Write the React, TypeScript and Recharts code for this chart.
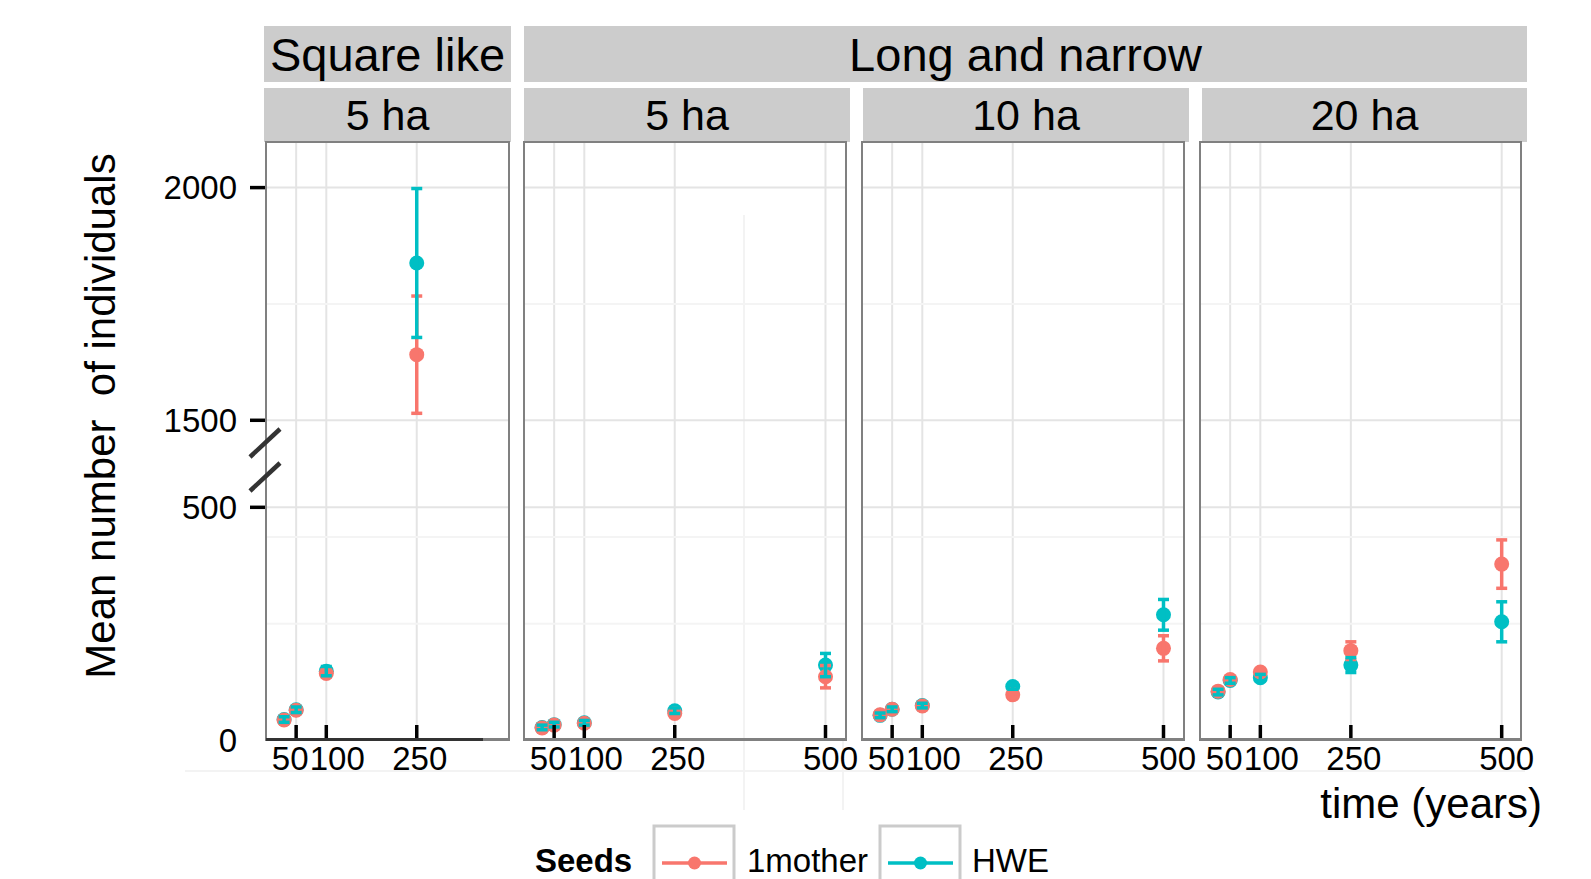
import React from 'react';
import { ScatterChart, Scatter, XAxis, YAxis, CartesianGrid, ReferenceLine } from 'recharts';

const MOTHER = '#F8766D';
const HWE = '#00BFC4';
const FONT = '"Liberation Sans", Arial, Helvetica, sans-serif';

// broken y axis: 0-500 and 1500-2000 share one scale, the gap is cut out
const Y_TICK_LABELS = [0, 500, 1500, 2000];
const Y_MINOR = [250, 436, 1750];
const BREAK_LOW = 500;
const BREAK_SHIFT = 813;
const Y_TOP = 1285; // in transformed units
const brk = (v: number) => (v <= BREAK_LOW ? v : v - BREAK_SHIFT);

// Square like, 5 ha
const SQ5_TIME = [30, 50, 100, 250];
const SQ5_TICKS = [50, 100, 250];
const SQ5_MOTHER = [43, 64, 143, 1641];
const SQ5_MOTHER_ERR = [6, 6, 7, 126];
const SQ5_HWE = [44, 65, 148, 1838];
const SQ5_HWE_ERR = [6, 6, 10, 160];

// Long and narrow
const LN_TIME = [30, 50, 100, 250, 500];
const LN_TICKS = [50, 100, 250, 500];

const LN5_MOTHER = [26, 32, 36, 57, 136];
const LN5_MOTHER_ERR = [5, 5, 5, 6, 24];
const LN5_HWE = [27, 33, 37, 63, 161];
const LN5_HWE_ERR = [5, 5, 5, 6, 25];

const LN10_MOTHER = [54, 66, 73, 97, 197];
const LN10_MOTHER_ERR = [5, 5, 5, 6, 27];
const LN10_HWE = [53, 66, 74, 115, 269];
const LN10_HWE_ERR = [5, 5, 5, 6, 33];

const LN20_MOTHER = [105, 130, 146, 192, 378];
const LN20_MOTHER_ERR = [6, 6, 6, 19, 52];
const LN20_HWE = [103, 128, 134, 161, 254];
const LN20_HWE_ERR = [6, 6, 7, 16, 43];

const X_NUDGE: Record<number, number> = { 50: -6, 100: 11, 250: 3, 500: 5 };

const PLOT_TOP = 142;
const PLOT_H = 598;
const X_AXIS_H = 50;
const PAD_L = 20;
const PAD_R = 34;
const Y_AXIS_W = 246;

const rows = (time: number[], vals: number[]) => time.map((x, i) => ({ x, y: brk(vals[i]) }));

const dot = (color: string) => (p: any) => <circle cx={p.cx} cy={p.cy} r={7.5} fill={color} />;
const cap = (color: string) => (p: any) => (
  <line x1={p.cx - 5.5} x2={p.cx + 5.5} y1={p.cy} y2={p.cy} stroke={color} strokeWidth={3.5} />
);

// one two-point scatter per error bar: the joining line is the whisker, the shapes are the caps
const errorBars = (id: string, time: number[], vals: number[], err: number[], color: string) =>
  time.map((x, i) => (
    <Scatter
      key={`${id}${i}`}
      data={[
        { x, y: brk(vals[i] - err[i]) },
        { x, y: brk(vals[i] + err[i]) },
      ]}
      fill={color}
      line={{ stroke: color, strokeWidth: 3.5 }}
      shape={cap(color)}
      isAnimationActive={false}
    />
  ));

const XTick = (p: any) => {
  const v = p.payload.value;
  return (
    <g>
      <line x1={p.x} x2={p.x} y1={p.y} y2={p.y - 15} stroke="#000" strokeWidth={3.5} />
      <text x={p.x + (X_NUDGE[v] ?? 0)} y={p.y + 30} textAnchor="middle" fontSize={33} fontFamily={FONT} fill="#000">
        {v}
      </text>
    </g>
  );
};

const YTick = (p: any) => {
  const label = Y_TICK_LABELS.find((l) => brk(l) === p.payload.value);
  return (
    <g>
      {label !== 0 && <line x1={p.x} x2={p.x - 16} y1={p.y} y2={p.y} stroke="#000" strokeWidth={3.5} />}
      <text x={p.x - 29} y={p.y} dy="0.36em" textAnchor="end" fontSize={33} fontFamily={FONT} fill="#000">
        {label}
      </text>
    </g>
  );
};

interface PanelProps {
  plotLeft: number;
  plotWidth: number;
  xMax: number;
  ticks: number[];
  time: number[];
  mother: number[];
  motherErr: number[];
  hwe: number[];
  hweErr: number[];
  showY?: boolean;
}

const Panel: React.FC<PanelProps> = ({ plotLeft, plotWidth, xMax, ticks, time, mother, motherErr, hwe, hweErr, showY }) => {
  const yw = showY ? Y_AXIS_W : 0;
  return (
    <div style={{ position: 'absolute', left: plotLeft - PAD_L - yw, top: PLOT_TOP - 10 }}>
      <ScatterChart
        width={PAD_L + yw + plotWidth + PAD_R}
        height={10 + PLOT_H + X_AXIS_H}
        margin={{ top: 10, right: PAD_R, bottom: 0, left: PAD_L }}
      >
        <CartesianGrid horizontal={false} stroke="#e4e4e4" strokeWidth={2} />
        {Y_MINOR.map((v) => (
          <ReferenceLine key={`mi${v}`} y={brk(v)} stroke="#f4f4f4" strokeWidth={2} />
        ))}
        {Y_TICK_LABELS.map((v) => (
          <ReferenceLine key={`ma${v}`} y={brk(v)} stroke="#e4e4e4" strokeWidth={2} />
        ))}
        <XAxis
          type="number"
          dataKey="x"
          domain={[0, xMax]}
          allowDataOverflow
          ticks={ticks}
          interval={0}
          height={X_AXIS_H}
          axisLine={false}
          tickLine={false}
          tickSize={0}
          tickMargin={0}
          tick={<XTick />}
        />
        <YAxis
          type="number"
          dataKey="y"
          domain={[0, Y_TOP]}
          allowDataOverflow
          ticks={Y_TICK_LABELS.map(brk)}
          interval={0}
          width={yw}
          hide={!showY}
          axisLine={false}
          tickLine={false}
          tickSize={0}
          tickMargin={0}
          tick={<YTick />}
        />
        <Scatter data={rows(time, hwe)} fill={HWE} shape={dot(HWE)} isAnimationActive={false} />
        <Scatter data={rows(time, mother)} fill={MOTHER} shape={dot(MOTHER)} isAnimationActive={false} />
        {errorBars('m', time, mother, motherErr, MOTHER)}
        {errorBars('h', time, hwe, hweErr, HWE)}
      </ScatterChart>
    </div>
  );
};

const PANELS = [
  { plotLeft: 266, plotWidth: 243, xMax: 403, ticks: SQ5_TICKS, time: SQ5_TIME, mother: SQ5_MOTHER, motherErr: SQ5_MOTHER_ERR, hwe: SQ5_HWE, hweErr: SQ5_HWE_ERR, showY: true },
  { plotLeft: 524, plotWidth: 322, xMax: 534, ticks: LN_TICKS, time: LN_TIME, mother: LN5_MOTHER, motherErr: LN5_MOTHER_ERR, hwe: LN5_HWE, hweErr: LN5_HWE_ERR },
  { plotLeft: 862, plotWidth: 322, xMax: 534, ticks: LN_TICKS, time: LN_TIME, mother: LN10_MOTHER, motherErr: LN10_MOTHER_ERR, hwe: LN10_HWE, hweErr: LN10_HWE_ERR },
  { plotLeft: 1200, plotWidth: 321, xMax: 532, ticks: LN_TICKS, time: LN_TIME, mother: LN20_MOTHER, motherErr: LN20_MOTHER_ERR, hwe: LN20_HWE, hweErr: LN20_HWE_ERR },
];

const TOP_STRIPS = [
  { label: 'Square like', left: 264, right: 511 },
  { label: 'Long and narrow', left: 524, right: 1527 },
];
const SUB_STRIPS = [
  { label: '5 ha', left: 264, right: 511 },
  { label: '5 ha', left: 524, right: 850 },
  { label: '10 ha', left: 863, right: 1189 },
  { label: '20 ha', left: 1202, right: 1527 },
];

const stripStyle = (left: number, right: number, top: number, height: number, size: number): React.CSSProperties => ({
  position: 'absolute',
  left,
  top,
  width: right - left,
  height,
  background: '#cccccc',
  display: 'flex',
  alignItems: 'center',
  justifyContent: 'center',
  fontSize: size,
  fontFamily: FONT,
  color: '#000',
  whiteSpace: 'nowrap',
  overflow: 'hidden',
});

const App: React.FC = () => (
  <div style={{ position: 'absolute', left: 0, top: 0, width: 1591, height: 879, background: '#fff', overflow: 'hidden' }}>
    {/* faint leftover lines from the composed figure */}
    <svg width={1591} height={879} style={{ position: 'absolute', left: 0, top: 0 }}>
      <line x1={185} x2={1525} y1={771} y2={771} stroke="#f3f3f3" strokeWidth={2} />
      <line x1={744} x2={744} y1={215} y2={810} stroke="#f3f3f3" strokeWidth={2} />
      <line x1={843} x2={843} y1={740} y2={810} stroke="#f3f3f3" strokeWidth={2} />
    </svg>

    {TOP_STRIPS.map((s) => (
      <div key={s.label} style={stripStyle(s.left, s.right, 26, 56, 47)}>{s.label}</div>
    ))}
    {SUB_STRIPS.map((s, i) => (
      <div key={i} style={stripStyle(s.left, s.right, 88, 54, 43)}>{s.label}</div>
    ))}

    {PANELS.map((p, i) => (
      <Panel key={i} {...p} />
    ))}

    {PANELS.map((p, i) => (
      <div
        key={`b${i}`}
        style={{
          position: 'absolute',
          left: p.plotLeft - 1,
          top: PLOT_TOP - 1,
          width: p.plotWidth + 2,
          height: PLOT_H + 2,
          border: '2px solid #808080',
          borderBottomWidth: 3,
          boxSizing: 'border-box',
          pointerEvents: 'none',
        }}
      />
    ))}
    <div style={{ position: 'absolute', left: 266, top: 738, width: 217, height: 3, background: '#333' }} />

    <svg width={1591} height={879} style={{ position: 'absolute', left: 0, top: 0, pointerEvents: 'none' }}>
      {/* axis break marks */}
      <line x1={250} y1={457} x2={280} y2={429} stroke="#333" strokeWidth={4.5} />
      <line x1={250} y1={491} x2={280} y2={463} stroke="#333" strokeWidth={4.5} />

      <text
        transform="translate(115,416) rotate(-90)"
        textAnchor="middle"
        fontSize={42}
        fontFamily={FONT}
        fill="#000"
        style={{ whiteSpace: 'pre' }}
      >
        {'Mean number  of individuals'}
      </text>
      <text x={1542} y={818} textAnchor="end" fontSize={42} fontFamily={FONT} fill="#000">
        time (years)
      </text>

      {/* legend */}
      <text x={535} y={872} fontSize={33} fontWeight="bold" fontFamily={FONT} fill="#000">
        Seeds
      </text>
      <rect x={654} y={826} width={80} height={80} fill="#fff" stroke="#cbcbcb" strokeWidth={3} />
      <line x1={662} x2={727} y1={863} y2={863} stroke={MOTHER} strokeWidth={3.5} />
      <circle cx={694.5} cy={863} r={6.5} fill={MOTHER} />
      <text x={747} y={872} fontSize={33} fontFamily={FONT} fill="#000">
        1mother
      </text>
      <rect x={880} y={826} width={80} height={80} fill="#fff" stroke="#cbcbcb" strokeWidth={3} />
      <line x1={888} x2={953} y1={863} y2={863} stroke={HWE} strokeWidth={3.5} />
      <circle cx={920.5} cy={863} r={6.5} fill={HWE} />
      <text x={972} y={872} fontSize={33} fontFamily={FONT} fill="#000">
        HWE
      </text>
    </svg>
  </div>
);

export default App;
